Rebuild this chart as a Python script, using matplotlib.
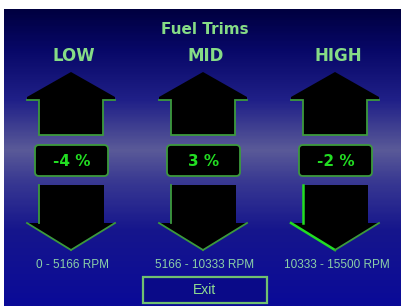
import numpy as np
import matplotlib
matplotlib.use("Agg")
import matplotlib.pyplot as plt
from matplotlib.patches import Polygon, FancyBboxPatch, Rectangle
from matplotlib.colors import LinearSegmentedColormap

# ---- data ----
title = "Fuel Trims"
categories = ["LOW", "MID", "HIGH"]
trims = [-4, 3, -2]
rpm_labels = ["0 - 5166 RPM", "5166 - 10333 RPM", "10333 - 15500 RPM"]
button_label = "Exit"
highlight = [False, False, True]

W, H = 401, 306
fig = plt.figure(figsize=(W / 100, H / 100), dpi=100)
fig.patch.set_facecolor("white")
ax = fig.add_axes([0, 0, 1, 1])
ax.set_xlim(0, W)
ax.set_ylim(H, 0)
ax.axis("off")

# background gradient panel
stops = [(9, "#000040"), (50, "#080868"), (100, "#202088"), (150, "#5a5a98"),
         (180, "#3a3a92"), (230, "#16168c"), (306, "#0a0a98")]
pos = [(y - 9) / (306 - 9) for y, _ in stops]
cmap = LinearSegmentedColormap.from_list("bg", list(zip(pos, [c for _, c in stops])))
grad = np.linspace(0, 1, 300).reshape(-1, 1)
ax.imshow(grad, cmap=cmap, extent=[4, W, H, 9], aspect="auto", zorder=0, interpolation="bilinear")

DIM = "#3c9a3c"
BRIGHT = "#22dd22"
TXT = "#86dc86"
RPMC = "#8cd0a8"

narrow = ["Liberation Sans", "DejaVu Sans"]

ax.text(205, 30, title, color=TXT, fontsize=11, fontweight="bold",
        ha="center", va="center", zorder=5)

for i, (cat, v, rpm, hl) in enumerate(zip(categories, trims, rpm_labels, highlight)):
    c = 71 + 132 * i
    ax.text(c + 3, 56, cat, color=TXT, fontsize=12, fontweight="bold",
            ha="center", va="center", zorder=5)

    # up arrow
    up = [(c, 72), (c + 44, 97), (c + 44, 100), (c + 32, 100), (c + 32, 135),
          (c - 32, 135), (c - 32, 100), (c - 44, 100), (c - 44, 97)]
    ax.add_patch(Polygon(up, closed=True, facecolor="black", edgecolor="none", zorder=2))
    ox = [c - 44, c - 32, c - 32, c + 32, c + 32, c + 44]
    oy = [100, 100, 135, 135, 100, 100]
    ax.plot(ox, oy, color=DIM, lw=1.3, zorder=3, solid_joinstyle="miter")

    # value box
    ax.add_patch(FancyBboxPatch((c - 36, 145), 73, 31,
                                boxstyle="round,pad=0,rounding_size=4",
                                facecolor="black", edgecolor=DIM, lw=1.3, zorder=2))
    ax.text(c + 1, 161, f"{v} %", color=BRIGHT, fontsize=11, fontweight="bold",
            ha="center", va="center", zorder=5)

    # down arrow
    dn = [(c - 32, 185), (c + 33, 185), (c + 33, 223), (c + 44, 223), (c, 250),
          (c - 44, 223), (c - 32, 223)]
    ax.add_patch(Polygon(dn, closed=True, facecolor="black", edgecolor="none", zorder=2))
    lc = BRIGHT if hl else DIM
    lw = 1.8 if hl else 1.3
    ax.plot([c - 32, c - 32], [185, 223], color=lc, lw=lw, zorder=3)
    ax.plot([c - 44, c], [223, 250], color=lc, lw=lw, zorder=3)
    ax.plot([c, c + 44], [250, 223], color=DIM, lw=1.3, zorder=3)

    ax.text(c + 2, 265, rpm, color=RPMC, fontsize=8.5, ha="center", va="center",
            family=narrow, zorder=5)

# exit button
ax.add_patch(Rectangle((143, 277), 124, 26, facecolor="#0a0a88", edgecolor="#70c070",
                       lw=1.6, zorder=2))
ax.text(205, 290, button_label, color="#90dc90", fontsize=10, ha="center", va="center",
        family=narrow, zorder=5)

fig.savefig("out.png", dpi=100, facecolor=fig.get_facecolor())
